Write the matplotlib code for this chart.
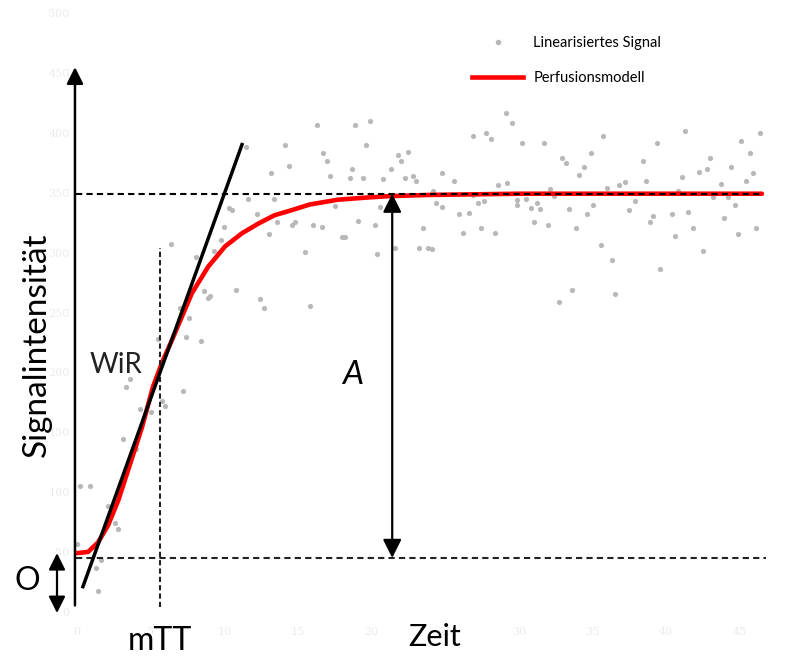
"""
Schematic of the perfusion model fit: linearised signal points, fitted curve,
wash-in rate tangent (WiR), mean transit time (mTT), offset O and amplitude A.
"""

import matplotlib.pyplot as plt
from matplotlib.lines import Line2D

plt.rcParams['font.family'] = ['Lato', 'DejaVu Sans']

signal_t = [0.0, 0.2, 0.9, 1.3, 1.4, 1.6, 2.1, 2.6, 2.8, 3.1, 3.3, 3.6, 4.0, 4.3,
            5.0, 5.5, 5.8, 6.0, 6.4, 7.0, 7.2, 7.4, 7.6, 8.1, 8.4, 8.6, 8.9, 9.0,
            9.3, 9.8, 10.0, 10.3, 10.5, 10.8, 11.5, 11.6, 12.2, 12.4, 12.7, 13.0,
            13.2, 13.4, 13.6, 14.1, 14.4, 14.6, 14.8, 15.5, 15.8, 16.0, 16.3, 16.6,
            16.7, 17.0, 17.2, 17.5, 18.0, 18.2, 18.5, 18.7, 18.9, 19.1, 19.4, 19.6,
            19.9, 20.2, 20.4, 20.6, 20.8, 21.3, 21.6, 21.8, 22.0, 22.3, 22.5, 22.8,
            23.0, 23.2, 23.5, 23.8, 24.1, 24.2, 24.4, 24.8, 24.8, 25.6, 25.9, 26.2,
            26.6, 26.9, 26.9, 27.2, 27.4, 27.6, 27.8, 28.1, 28.4, 28.6, 29.1, 29.2,
            29.5, 29.9, 29.9, 30.2, 30.5, 30.8, 31.0, 31.2, 31.4, 31.7, 32.0, 32.1,
            32.4, 32.7, 32.9, 33.2, 33.4, 33.6, 33.9, 34.1, 34.4, 34.6, 34.9, 35.0,
            35.6, 35.7, 36.0, 36.3, 36.5, 36.8, 37.2, 37.5, 37.9, 38.4, 38.6, 38.9,
            39.1, 39.4, 39.6, 40.4, 40.6, 40.8, 41.1, 41.3, 41.5, 41.8, 42.2, 42.5,
            42.8, 43.0, 43.2, 43.7, 43.9, 44.2, 44.4, 44.7, 44.9, 45.1, 45.4, 45.7,
            45.9, 46.1, 46.4]
signal_v = [58, 106, 106, 38, 18, 44, 89, 75, 70, 145, 189, 195, 137, 170,
            168, 229, 177, 173, 308, 255, 185, 230, 246, 297, 227, 269, 263, 265,
            302, 311, 322, 338, 336, 270, 389, 346, 333, 262, 255, 316,
            367, 346, 326, 391, 373, 324, 326, 301, 256, 324, 407, 322,
            384, 377, 365, 340, 314, 314, 363, 371, 407, 327, 363, 391,
            411, 324, 300, 339, 362, 371, 305, 382, 377, 363, 385, 365,
            361, 305, 321, 305, 304, 352, 342, 339, 367, 361, 333, 317,
            334, 398, 349, 342, 321, 344, 401, 396, 317, 357, 417, 359,
            409, 345, 341, 392, 346, 338, 326, 342, 337, 392, 324, 354,
            348, 260, 380, 376, 337, 270, 321, 366, 372, 333, 384, 341,
            307, 398, 355, 295, 266, 357, 360, 336, 344, 377, 361, 326,
            331, 392, 287, 333, 315, 352, 364, 402, 335, 321, 368, 302,
            371, 380, 347, 358, 330, 347, 372, 341, 316, 394, 361, 384,
            367, 321, 401]

# fitted perfusion model
model_t = [0.0, 0.75, 1.43, 2.1, 2.8, 3.46, 4.41, 5.16, 5.77, 6.45, 7.8, 8.9,
           10.05, 11.2, 12.3, 13.4, 14.5, 15.8, 17.7, 19.9, 21.2, 24.0, 30.0, 46.5]
model_v = [50, 51, 59, 73, 94, 119, 155, 189, 209, 228, 267, 289,
           306, 317, 325, 332, 336, 341, 345, 347, 348, 349, 350, 350]

# wash-in tangent end points
tangent_t = [0.4, 11.2]
tangent_v = [22, 391]

offset_o = 46       # baseline O
plateau = 350       # O + A
mtt = 5.63          # mean transit time
mtt_top = 305
a_pos = 21.4        # where the A arrow stands

x_ticks = [0, 5, 10, 15, 20, 25, 30, 35, 40, 45]
y_ticks = [0, 50, 100, 150, 200, 250, 300, 350, 400, 450, 500]

fig = plt.figure(figsize=(7.98, 6.57), dpi=100)
ax = fig.add_axes([0, 0, 1, 1])
ax.set_xlim(-5.23, 48.95)
ax.set_ylim(-36.7, 511.7)
ax.axis('off')

# faint tick labels of the underlying plot
for t in x_ticks:
    ax.text(t, -16, str(t), ha='center', va='center', fontsize=8,
            color='#ebebeb', family='DejaVu Serif')
for v in y_ticks:
    ax.text(-0.5, v, str(v), ha='right', va='center', fontsize=8,
            color='#ebebeb', family='DejaVu Serif')

# data and model
ax.scatter(signal_t, signal_v, s=14, color='#b8b8b8', linewidths=0, zorder=2)
ax.plot(model_t, model_v, color='#ff0000', lw=3.3, zorder=3,
        solid_joinstyle='round', solid_capstyle='round')

# guide lines
ax.plot([-0.1, 46.6], [plateau, plateau], color='black', ls=(0, (3, 2)), lw=1.5, zorder=4)
ax.plot([-0.1, 46.8], [offset_o, offset_o], color='#222222', ls=(0, (3, 2)), lw=1.5, zorder=4)
ax.plot([mtt, mtt], [5, mtt_top], color='#222222', ls=(0, (2.5, 1.5)), lw=1.5, zorder=4)
ax.plot(tangent_t, tangent_v, color='black', lw=2.5, zorder=5)

# axes as arrows
ax.annotate('', xy=(-0.14, 458), xytext=(-0.14, 4),
            arrowprops=dict(arrowstyle='-|>', color='black', lw=1.8, mutation_scale=25))
ax.annotate('', xy=(49.1, 5), xytext=(-0.3, 5),
            arrowprops=dict(arrowstyle='-|>', color='#222222', lw=1.8, mutation_scale=25))

# A and O arrows
ax.annotate('', xy=(a_pos, plateau), xytext=(a_pos, offset_o),
            arrowprops=dict(arrowstyle='<|-|>', color='black', lw=1.6,
                            mutation_scale=28, shrinkA=0, shrinkB=0))
ax.annotate('', xy=(-1.36, 50), xytext=(-1.36, 0),
            arrowprops=dict(arrowstyle='<|-|>', color='black', lw=1.6,
                            mutation_scale=25, shrinkA=0, shrinkB=0))

# labels
ax.text(-2.72, 224, 'Signalintensität', rotation=90, ha='center', va='center', fontsize=24)
ax.text(24.3, -20, 'Zeit', ha='center', va='center', fontsize=22)
ax.text(mtt, -23, 'mTT', ha='center', va='center', fontsize=23)
ax.text(2.65, 207, 'WiR', ha='center', va='center', fontsize=20, color='#222222')
ax.text(18.7, 199, 'A', ha='center', va='center', fontsize=24, style='italic')
ax.text(-3.4, 27, 'O', ha='center', va='center', fontsize=23)

# legend
handles = [Line2D([], [], ls='none', marker='o', ms=4, color='#b8b8b8', mec='none'),
           Line2D([], [], color='#ff0000', lw=3.3)]
ax.legend(handles, ['Linearisiertes Signal', 'Perfusionsmodell'],
          loc='upper left', bbox_to_anchor=(0.5915, 0.945), frameon=False,
          fontsize=10.5, handlelength=3.5, handletextpad=0.7,
          labelspacing=1.45, borderpad=0, borderaxespad=0)

fig.savefig('out.png', dpi=100)
